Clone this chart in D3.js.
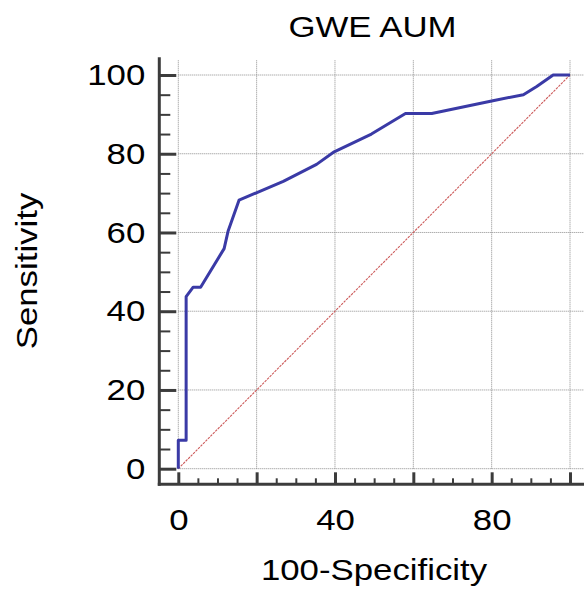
<!DOCTYPE html>
<html>
<head>
  <meta charset="utf-8">
  <script src="https://cdn.jsdelivr.net/npm/d3@7"></script>
  <style>
    body { margin: 0; background: #fff; }
    text { font-family: "Liberation Sans", Arial, sans-serif; fill: #000; }
  </style>
</head>
<body>
<script>
  // ROC curve data
  var specComp = [0, 0, 2.0, 2.0, 3.8, 5.7, 11.7, 12.7, 15.5, 26.8, 35.3, 39.8, 49.3, 58, 64.7, 80, 88.1, 91.5, 95.7, 100];
  var sensitivity = [0, 7.2, 7.2, 43.7, 46.1, 46.1, 55.9, 60.3, 68.2, 73, 77.3, 80.5, 85, 90.2, 90.2, 93.4, 95, 97.1, 100, 100];

  var xTicks = [0, 20, 40, 60, 80, 100];
  var xLabels = [0, 40, 80];
  var yTicks = [0, 20, 40, 60, 80, 100];
  var minorTicks = [5, 10, 15, 25, 30, 35, 45, 50, 55, 65, 70, 75, 85, 90, 95];

  var title = "GWE AUM",
      xTitle = "100-Specificity",
      yTitle = "Sensitivity";

  var width = 584, height = 594;
  var stretch = 1.16;   // text in the picture is a bit wider than Arial

  var svg = d3.select("body").append("svg")
      .attr("width", width)
      .attr("height", height);

  var x = d3.scaleLinear().domain([0, 100]).range([178.3, 570]);
  var y = d3.scaleLinear().domain([0, 100]).range([468.7, 75]);

  var axisX0 = 159.3,   // left axis sits off the plot origin
      axisY0 = 484.3;

  // dotted grid
  var grid = svg.append("g")
      .attr("stroke", "#8c8c8c")
      .attr("stroke-width", 1)
      .attr("stroke-dasharray", "1,1");
  grid.selectAll("line.v")
      .data(xTicks)
      .enter().append("line")
      .attr("x1", function (d) { return x(d); })
      .attr("x2", function (d) { return x(d); })
      .attr("y1", y(0))
      .attr("y2", y(103.8));
  grid.selectAll("line.h")
      .data(yTicks)
      .enter().append("line")
      .attr("x1", x(0))
      .attr("x2", width)
      .attr("y1", function (d) { return y(d); })
      .attr("y2", function (d) { return y(d); });

  // reference diagonal
  svg.append("line")
      .attr("x1", x(0)).attr("y1", y(0))
      .attr("x2", x(100)).attr("y2", y(100))
      .attr("stroke", "#cc5a5a")
      .attr("stroke-width", 1.1)
      .attr("stroke-dasharray", "2.5,1");

  // ROC curve
  var pts = specComp.map(function (d, i) { return [d, sensitivity[i]]; });
  var line = d3.line()
      .x(function (d) { return x(d[0]); })
      .y(function (d) { return y(d[1]); });
  svg.append("path")
      .datum(pts)
      .attr("d", line)
      .attr("fill", "none")
      .attr("stroke", "#3a3aa6")
      .attr("stroke-width", 3)
      .attr("stroke-linejoin", "round");

  // y axis
  var yMinor = svg.append("g")
      .attr("transform", "translate(" + axisX0 + ",0)")
      .call(d3.axisLeft(y).tickValues(minorTicks).tickSize(-11).tickFormat(""));
  var yMajor = svg.append("g")
      .attr("transform", "translate(" + axisX0 + ",0)")
      .call(d3.axisLeft(y).tickValues(yTicks).tickSize(-17).tickPadding(14));

  // x axis
  var xMinor = svg.append("g")
      .attr("transform", "translate(0," + axisY0 + ")")
      .call(d3.axisBottom(x).tickValues(minorTicks).tickSize(-6).tickFormat(""));
  var xMajor = svg.append("g")
      .attr("transform", "translate(0," + axisY0 + ")")
      .call(d3.axisBottom(x).tickValues(xTicks).tickSize(-12).tickPadding(24)
        .tickFormat(function (d) { return xLabels.indexOf(d) >= 0 ? d : ""; }));

  [yMinor, yMajor, xMinor, xMajor].forEach(function (g) {
    g.select(".domain").remove();
    g.selectAll(".tick line").attr("stroke", "#3c3c3c");
  });
  yMinor.selectAll(".tick line").attr("stroke-width", 2);
  xMinor.selectAll(".tick line").attr("stroke-width", 2);
  yMajor.selectAll(".tick line").attr("stroke-width", 3);
  xMajor.selectAll(".tick line").attr("stroke-width", 3);

  yMajor.selectAll(".tick text")
      .attr("font-size", 30)
      .attr("font-family", "Liberation Sans, Arial, sans-serif")
      .attr("fill", "#000")
      .attr("x", -14 / stretch)
      .attr("transform", "scale(" + stretch + ",1)");
  xMajor.selectAll(".tick text")
      .attr("font-size", 30)
      .attr("font-family", "Liberation Sans, Arial, sans-serif")
      .attr("fill", "#000")
      .attr("transform", "scale(" + stretch + ",1)")
      .attr("x", 0);

  // axis lines
  svg.append("line")
      .attr("x1", axisX0).attr("x2", axisX0)
      .attr("y1", y(104.5)).attr("y2", axisY0 + 1.5)
      .attr("stroke", "#3c3c3c").attr("stroke-width", 3);
  svg.append("line")
      .attr("x1", axisX0 - 1.5).attr("x2", width)
      .attr("y1", axisY0).attr("y2", axisY0)
      .attr("stroke", "#3c3c3c").attr("stroke-width", 3);

  // titles
  svg.append("text")
      .attr("transform", "translate(" + 372.5 + ",37) scale(" + stretch + ",1)")
      .attr("text-anchor", "middle")
      .attr("font-size", 30)
      .text(title);
  svg.append("text")
      .attr("transform", "translate(" + 374 + ",580) scale(" + stretch + ",1)")
      .attr("text-anchor", "middle")
      .attr("font-size", 30)
      .text(xTitle);
  svg.append("text")
      .attr("transform", "translate(37," + 271 + ") rotate(-90) scale(" + stretch + ",1)")
      .attr("text-anchor", "middle")
      .attr("font-size", 30)
      .text(yTitle);
</script>
</body>
</html>
